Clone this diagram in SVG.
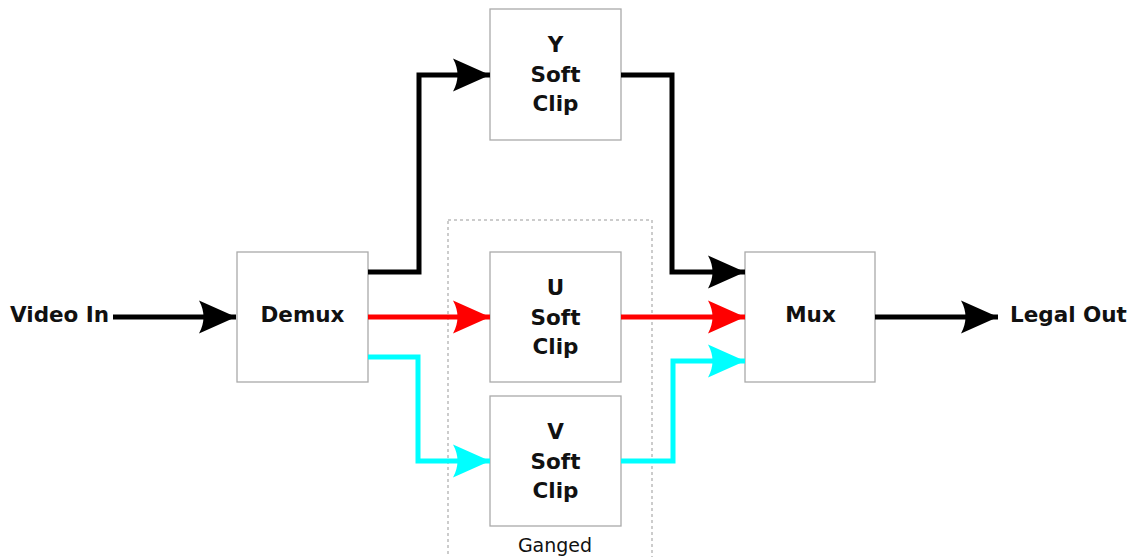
<svg xmlns="http://www.w3.org/2000/svg" width="1134" height="557" viewBox="0 0 1134 557">
<style>
.box{fill:#fff;stroke:#aaa;stroke-width:1.3}
.lbl{font-family:"DejaVu Sans",sans-serif;font-weight:bold;font-size:21.5px;fill:#111;text-anchor:middle}
.w{fill:none;stroke-width:5;stroke-linejoin:miter}
.k{stroke:#000}.r{stroke:#f00}.c{stroke:#0ff}
</style>
<defs>
<marker id="ak" markerUnits="userSpaceOnUse" markerWidth="40" markerHeight="36" refX="37" refY="17" orient="auto" viewBox="0 0 40 36"><path d="M0,0.5 L37,17 L0,33.5 Q9,17 0,0.5 Z" fill="#000"/></marker>
<marker id="ar" markerUnits="userSpaceOnUse" markerWidth="40" markerHeight="36" refX="37" refY="17" orient="auto" viewBox="0 0 40 36"><path d="M0,0.5 L37,17 L0,33.5 Q9,17 0,0.5 Z" fill="#f00"/></marker>
<marker id="ac" markerUnits="userSpaceOnUse" markerWidth="40" markerHeight="36" refX="37" refY="17" orient="auto" viewBox="0 0 40 36"><path d="M0,0.5 L37,17 L0,33.5 Q9,17 0,0.5 Z" fill="#0ff"/></marker>
</defs>
<rect width="1134" height="557" fill="#fff"/>
<g id="ganged">
<rect x="448" y="220" width="204" height="350" fill="none" stroke="#999" stroke-width="1" stroke-dasharray="3,3"/>
<text x="555" y="552" font-family="'DejaVu Sans',sans-serif" font-size="19" fill="#111" text-anchor="middle">Ganged</text>
</g>
<g id="demux"><rect class="box" x="237" y="252" width="131" height="130"/><text class="lbl" x="302.5" y="322">Demux</text></g>
<g id="yclip"><rect class="box" x="490" y="9" width="131" height="131"/><text class="lbl" x="555.5" y="52">Y</text><text class="lbl" x="555.5" y="82">Soft</text><text class="lbl" x="555.5" y="111">Clip</text></g>
<g id="uclip"><rect class="box" x="490" y="252" width="131" height="130"/><text class="lbl" x="555.5" y="295">U</text><text class="lbl" x="555.5" y="325">Soft</text><text class="lbl" x="555.5" y="354">Clip</text></g>
<g id="vclip"><rect class="box" x="490" y="396" width="131" height="130"/><text class="lbl" x="555.5" y="439">V</text><text class="lbl" x="555.5" y="469">Soft</text><text class="lbl" x="555.5" y="498">Clip</text></g>
<g id="mux"><rect class="box" x="745" y="252" width="130" height="130"/><text class="lbl" x="810.5" y="322">Mux</text></g>
<g id="videoin"><text class="lbl" x="10" y="322" style="text-anchor:start">Video In</text></g>
<g id="legalout"><text class="lbl" x="1010" y="322" style="text-anchor:start">Legal Out</text></g>
<g id="connectors">
<path class="w k" d="M113,317 H236" marker-end="url(#ak)"/>
<path class="w k" d="M368,272 H419 V75 H490" marker-end="url(#ak)"/>
<path class="w r" d="M368,317 H490" marker-end="url(#ar)"/>
<path class="w c" d="M368,357 H418 V461 H490" marker-end="url(#ac)"/>
<path class="w k" d="M621,75 H672 V272 H745" marker-end="url(#ak)"/>
<path class="w r" d="M621,317 H745" marker-end="url(#ar)"/>
<path class="w c" d="M621,461 H673 V361 H745" marker-end="url(#ac)"/>
<path class="w k" d="M875,317 H998" marker-end="url(#ak)"/>
</g>
</svg>
